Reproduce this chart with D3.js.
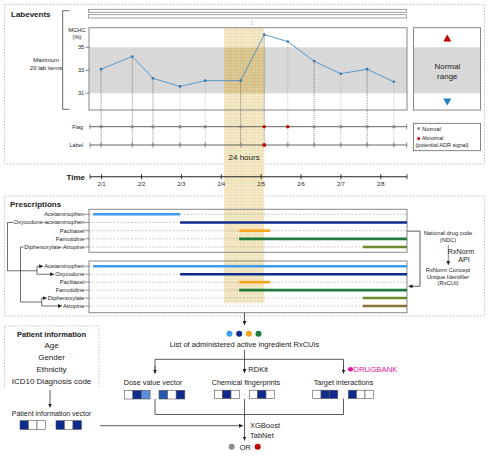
<!DOCTYPE html>
<html><head><meta charset="utf-8">
<script src="https://cdn.jsdelivr.net/npm/d3@7"></script>
<style>body{margin:0;background:#fff}svg{display:block}</style>
</head><body><svg id="c" width="493" height="456"></svg>
<script>
// ---------- DATA ----------
const labDays = [1.0, 1.78, 2.30, 2.98, 3.61, 4.50, 5.09, 5.68, 6.34, 7.01, 7.67, 8.34];
const mchcValues = [33.1, 34.2, 32.3, 31.6, 32.1, 32.1, 36.1, 35.5, 33.8, 32.7, 33.1, 32.0];
const flagAbnormal = [0,0,0,0,0,0,1,1,0,0,0,0];
const labelAbnormal = [0,0,0,0,0,0,1,0,0,0,0,0];
const dropEmphasis = [1,1,1,0,0,1,1,0,1,0,1,0];
const mchcTicks = [31, 33, 35];
const normalRange = [31, 35];
const timeDays = [1,2,3,4,5,6,7,8];
const timeLabels = ["2/1","2/2","2/3","2/4","2/5","2/6","2/7","2/8"];
const windowDays = [4.08, 5.09];
const timeDomain = [0.72, 8.67];

const originalDrugs = ["Acetaminophen","Oxycodone-acetaminophen","Paclitaxel","Famotidine","Diphenoxylate-Atropine"];
const originalStart = [0.8, 2.98, 4.46, 4.46, 7.56];
const originalEnd   = [2.98, 8.67, 5.24, 8.67, 8.67];
const ingredientDrugs = ["Acetaminophen","Oxycodone","Paclitaxel","Famotidine","Diphenoxylate","Atropine"];
const ingredientStart = [0.8, 2.98, 4.46, 4.46, 7.56, 7.56];
const ingredientEnd   = [8.67, 8.67, 5.24, 8.67, 8.67, 8.67];

const doseVector = [[0,3,1],[2,0,3]];
const fingerprintVector = [[0,3,0],[0,3,0]];
const targetVector = [[0,3,3],[3,0,0]];
const patientVector = [[3,0,0],[3,0,3]];
const patientFields = ["Age","Gender","Ethnicity","ICD10 Diagnosis code"];

// ---------- STYLE ----------
const F = "Liberation Sans, Arial, sans-serif";
const ingredientColors = ["#3d9cec","#0d2a8c","#f7a31c","#1e7a3e","#6b8b2e","#8a7236"];
const originalColors = ["#3d9cec","#0d2a8c","#f7a31c","#1e7a3e","#6b8b2e"];
const cellColors = ["#ffffff","#5b8fdd","#2458b0","#0d2a8c"];
const RED = "#c00000", GRAY = "#8c8c8c";

const svg = d3.select("#c");
const defs = svg.append("defs");
defs.append("marker").attr("id","arr").attr("viewBox","0 0 6 6").attr("refX",6).attr("refY",3)
  .attr("markerUnits","userSpaceOnUse").attr("markerWidth",4).attr("markerHeight",4).attr("orient","auto")
  .append("path").attr("d","M0,0L6,3L0,6Z").attr("fill","#222");
const pat = defs.append("pattern").attr("id","hatch").attr("width",3).attr("height",3).attr("patternUnits","userSpaceOnUse");
pat.append("rect").attr("width",3).attr("height",3).attr("fill","#f5eacb");
pat.append("path").attr("d","M0,0.5H3M0.5,0V3").attr("stroke","#ebdbab").attr("stroke-width",0.6);
const pat2 = defs.append("pattern").attr("id","hatch2").attr("width",3).attr("height",3).attr("patternUnits","userSpaceOnUse");
pat2.append("rect").attr("width",3).attr("height",3).attr("fill","#dfcb98");
pat2.append("path").attr("d","M0,0.5H3M0.5,0V3").attr("stroke","#d2bb82").attr("stroke-width",0.6);
const gpat = defs.append("pattern").attr("id","gray").attr("width",2).attr("height",2).attr("patternUnits","userSpaceOnUse");
gpat.append("rect").attr("width",2).attr("height",2).attr("fill","#d6d6d6");
gpat.append("rect").attr("width",1).attr("height",1).attr("fill","#dedede");

function text(x,y,s,size,anchor="start",weight="normal",fill="#222"){
  return svg.append("text").attr("x",x).attr("y",y).text(s).attr("font-family",F).attr("font-size",size)
    .attr("text-anchor",anchor).attr("font-weight",weight).attr("fill",fill);
}
function line(x1,y1,x2,y2,stroke="#333",w=0.8,dash=null,arrow=false){
  const l = svg.append("line").attr("x1",x1).attr("y1",y1).attr("x2",x2).attr("y2",y2)
    .attr("stroke",stroke).attr("stroke-width",w);
  if(dash) l.attr("stroke-dasharray",dash);
  if(arrow) l.attr("marker-end","url(#arr)");
  return l;
}
function path(d,stroke="#333",w=0.8,arrow=false){
  const p = svg.append("path").attr("d",d).attr("fill","none").attr("stroke",stroke).attr("stroke-width",w);
  if(arrow) p.attr("marker-end","url(#arr)");
  return p;
}

const x = d3.scaleLinear().domain(timeDomain).range([90, 407]);
const y = d3.scaleLinear().domain(normalRange).range([93.3, 47.3]);

// ---------- panels ----------
svg.append("rect").attr("x",4.5).attr("y",4.5).attr("width",480).attr("height",159.5)
  .attr("fill","none").attr("stroke","#aaa").attr("stroke-width",0.7).attr("stroke-dasharray","1.5,1.5");
svg.append("rect").attr("x",4.5).attr("y",196).attr("width",480).attr("height",120)
  .attr("fill","none").attr("stroke","#aaa").attr("stroke-width",0.7).attr("stroke-dasharray","1.5,1.5");
path("M4.5,388V326H99V388","#aaa",0.7).attr("stroke-dasharray","1.5,1.5");

text(11,17,"Labevents",8,"start","bold");
text(10,207,"Prescriptions",8,"start","bold");

// gray normal-range band (chart + legend)
svg.append("rect").attr("x",89).attr("y",y(35)).attr("width",318).attr("height",y(31)-y(35)).attr("fill","url(#gray)");
svg.append("rect").attr("x",413.5).attr("y",y(35)).attr("width",67).attr("height",y(31)-y(35)).attr("fill","url(#gray)");

// 24-hour window band
const bx0 = x(windowDays[0]), bx1 = x(windowDays[1]);
svg.append("rect").attr("x",bx0).attr("y",28).attr("width",bx1-bx0)
  .attr("height",275).attr("fill","url(#hatch)");
svg.append("rect").attr("x",bx0).attr("y",y(35)).attr("width",bx1-bx0)
  .attr("height",y(31)-y(35)).attr("fill","url(#hatch2)");
text((bx0+bx1)/2,160,"24 hours",8,"middle");

// top stacked lab rows
svg.append("rect").attr("x",88.5).attr("y",9.3).attr("width",318).attr("height",3).attr("fill","#fff").attr("stroke","#888").attr("stroke-width",0.8);
svg.append("rect").attr("x",88.5).attr("y",14.7).attr("width",318).attr("height",3.3).attr("fill","#fff").attr("stroke","#888").attr("stroke-width",0.8);
line(252,20,252,26,"#999",0.8,"1,1");

// bracket
path("M69.5,10.7H62.7V109.3H69.5","#444",0.8);
text(46,62,"Maximum",6,"middle");
text(46,69.5,"20 lab items",6,"middle");

// chart box
svg.append("rect").attr("x",89).attr("y",27.7).attr("width",318).attr("height",82.3).attr("fill","none").attr("stroke","#888").attr("stroke-width",1);
text(77,32,"MCHC",5.8,"middle");
text(77,39,"(%)",5.8,"middle");
mchcTicks.forEach(t=>{ line(85.5,y(t),89,y(t),"#555",0.7); text(84,y(t)+2,String(t),5.5,"end"); });

// drop lines
labDays.forEach((d,i)=>{
  line(x(d),y(mchcValues[i]),x(d),145, dropEmphasis[i]?"#555":"#b0b0b0",0.7,"1,1");
});
// series line
svg.append("path").datum(labDays.map((d,i)=>[d,mchcValues[i]]))
  .attr("d",d3.line().x(d=>x(d[0])).y(d=>y(d[1]))).attr("fill","none").attr("stroke","#4b8fc4").attr("stroke-width",0.9);
svg.selectAll(".pt").data(labDays).join("circle").attr("cx",d=>x(d)).attr("cy",(d,i)=>y(mchcValues[i])).attr("r",1.3).attr("fill","#2f74b0");

// flag and label rows
[[126.7,"Flag"],[145,"Label"]].forEach(([ry,lab])=>{
  line(90,ry,406.7,ry,"#555",0.9);
  line(90,ry-2.5,90,ry+2.5,"#555",0.7);
  line(406.7,ry-2.5,406.7,ry+2.5,"#555",0.7);
  text(83,ry+2,lab,5.5,"end");
});
svg.selectAll(".flag").data(labDays).join("circle").attr("cx",d=>x(d)).attr("cy",126.7).attr("r",1.7)
  .attr("fill",(d,i)=>flagAbnormal[i]?RED:GRAY);
labDays.forEach((d,i)=>{
  if(labelAbnormal[i]){
    svg.append("rect").attr("x",x(d)-1.7).attr("y",143.3).attr("width",3.4).attr("height",3.4).attr("fill",RED);
  } else {
    line(x(d),142.3,x(d),147.7,"#888",0.8);
    svg.append("circle").attr("cx",x(d)).attr("cy",145).attr("r",1.4).attr("fill",GRAY);
  }
});

// legend: normal range
svg.append("rect").attr("x",413.5).attr("y",27.7).attr("width",67).attr("height",82.3).attr("fill","none").attr("stroke","#888").attr("stroke-width",1);
svg.append("path").attr("d","M447.3,34.5L451.3,41.5L443.3,41.5Z").attr("fill",RED);
svg.append("path").attr("d","M447.3,105.5L451.3,98.5L443.3,98.5Z").attr("fill","#1f7fc4");
text(447.3,69,"Normal",8,"middle");
text(447.3,79,"range",8,"middle");

// legend: flag
svg.append("rect").attr("x",413.5).attr("y",123.3).attr("width",67).attr("height",27.4).attr("fill","none").attr("stroke","#666").attr("stroke-width",0.8);
svg.append("circle").attr("cx",418.7).attr("cy",128.5).attr("r",1.5).attr("fill",GRAY);
text(422,130.5,"Normal",5.8);
svg.append("circle").attr("cx",418.7).attr("cy",138.5).attr("r",1.5).attr("fill",RED);
text(422,140.2,"Abnormal",5);
text(415.5,147.2,"(potential ADR signal)",5.5);

// ---------- time axis ----------
const ax = svg.append("g").attr("transform","translate(0,176.7)")
  .call(d3.axisBottom(x).tickValues(timeDays).tickFormat((d,i)=>timeLabels[i]).tickSizeOuter(0).tickSizeInner(2.5));
ax.select(".domain").remove();
ax.selectAll(".tick line").attr("y1",-2.5).attr("y2",2.5).attr("stroke","#222").attr("stroke-width",0.9);
ax.selectAll(".tick text").attr("y",7.5).attr("dy","0.35em").attr("font-family",F).attr("font-size",5.5).attr("fill","#222");
line(90,176.7,407,176.7,"#222",1.1);
line(90,174.2,90,179.2,"#222",0.8);
line(407,174.2,407,179.2,"#222",0.8);
text(85,179.5,"Time",8,"end","bold");

// ---------- prescriptions ----------
function drugBox(names, starts, ends, colors, y0, y1, boxTop, boxBot){
  const ys = d3.scalePoint().domain(names).range([y0,y1]);
  svg.append("rect").attr("x",89).attr("y",boxTop).attr("width",318).attr("height",boxBot-boxTop)
    .attr("fill","none").attr("stroke","#888").attr("stroke-width",1);
  const starts_ = {};
  names.forEach((n,i)=>{
    const yy = ys(n);
    line(89,yy,407,yy,"#999",0.5,"2,1.5");
    line(85,yy,89,yy,"#444",0.6);
    const t = text(84.5,yy+2,n,5.8,"end");
    starts_[n] = t.node().getBBox().x;
    line(x(starts[i]),yy,x(ends[i]),yy,colors[i],2.6);
  });
  return {ys, starts: starts_};
}
const up = drugBox(originalDrugs, originalStart, originalEnd, originalColors, 214.3, 247, 209.3, 252.3);
const lo = drugBox(ingredientDrugs, ingredientStart, ingredientEnd, ingredientColors, 266.3, 306, 261, 312.7);

// left fork connectors
{
  const ya = up.ys("Oxycodone-acetaminophen");
  const xa = up.starts["Oxycodone-acetaminophen"]-0.5;
  const yb1 = lo.ys("Acetaminophen"), yb2 = lo.ys("Oxycodone");
  const ym = (yb1+yb2)/2 + 0.5;
  path(`M${xa},${ya}H7.5V${ym}H37`,"#333",0.7);
  path(`M37,${yb1}V${yb2}`,"#333",0.7);
  line(37,yb1,lo.starts["Acetaminophen"]-1,yb1,"#333",0.7,null,true);
  line(37,yb2,lo.starts["Oxycodone"]-1,yb2,"#333",0.7,null,true);
}
{
  const ya = up.ys("Diphenoxylate-Atropine");
  const xa = up.starts["Diphenoxylate-Atropine"]-0.5;
  const yb1 = lo.ys("Diphenoxylate"), yb2 = lo.ys("Atropine");
  const ym = (yb1+yb2)/2;
  path(`M${xa},${ya}H20.5V${ym}H41.7`,"#333",0.7);
  path(`M41.7,${yb1}V${yb2}`,"#333",0.7);
  line(41.7,yb1,lo.starts["Diphenoxylate"]-1,yb1,"#333",0.7,null,true);
  line(41.7,yb2,lo.starts["Atropine"]-1,yb2,"#333",0.7,null,true);
}

// right NDC -> RxCUI
path(`M407,${up.ys("Paclitaxel")+0.5}H420V286.3H408.5`,"#333",0.8,true);
text(448,235,"National drug code",5.8,"middle");
text(448,241.8,"(NDC)",5.8,"middle");
line(448.3,245,448.3,265,"#555",0.7,null,true);
text(461,253.5,"RxNorm",7.2,"middle");
text(464,262,"API",7.2,"middle");
text(448,272,"RxNorm Concept",5.8,"middle");
text(448,278.7,"Unique Identifier",5.8,"middle");
text(448,285.4,"(RxCUI)",5.8,"middle");

// ---------- flow ----------
line(244.5,312.7,244.5,325,"#333",0.8,null,true);
const dotX = d3.scalePoint().domain(d3.range(4)).range([229.5,258.5]);
svg.selectAll(".ld").data(d3.range(4)).join("circle").attr("cx",d=>dotX(d)).attr("cy",333.7).attr("r",3)
  .attr("fill",d=>ingredientColors[d]);
text(244.5,347,"List of administered active ingredient RxCUIs",7.5,"middle");
line(244.5,350,244.5,373,"#333",0.8,null,true);
path("M155,373V359.3H343.5V373","#333",0.8);
line(155,366,155,373.5,"#333",0.8,null,true);
line(343.5,366,343.5,373.5,"#333",0.8,null,true);
text(248.3,372,"RDKit",7.5);
svg.append("ellipse").attr("cx",350.5).attr("cy",369.3).attr("rx",2.6).attr("ry",2.2).attr("fill","#e5179b");
text(353.3,372,"DRUGBANK",7.8,"start","normal","#e5179b");

text(153,385,"Dose value vector",7.3,"middle");
text(246,385,"Chemical fingerprints",7.3,"middle");
text(343.5,385,"Target interactions",7.3,"middle");

function drawVec(groups, gx, y0, cw=8.6, ch=8.7){
  groups.forEach((g,gi)=>{
    g.forEach((v,ci)=>{
      svg.append("rect").attr("x",gx[gi]+ci*cw).attr("y",y0).attr("width",cw).attr("height",ch)
        .attr("fill",cellColors[v]).attr("stroke","#555").attr("stroke-width",0.6);
    });
  });
  text((gx[0]+3*cw+gx[1])/2,y0+ch/2+1.5,"···",5,"middle","normal","#888");
}
drawVec(doseVector,[124.3,159],390.3);
drawVec(fingerprintVector,[214.3,249.3],390.2,8.35,8.3);
drawVec(targetVector,[312.7,348.3],390.2,8.35,8.3);
drawVec(patientVector,[20,56],420.7,8.5,8.6);

// patient info
text(51.5,336.5,"Patient information",7.6,"middle","bold");
patientFields.forEach((f,i)=>text(51.5,348+i*12,f,8,"middle"));
line(50,390,50,407.5,"#333",0.8,null,true);
text(51.5,416,"Patient information vector",7,"middle");

// bottom merge
path("M155,399V414.5H343.5V398.5","#333",0.8);
line(100,425.7,243,425.7,"#333",0.8,null,true);
line(244.5,399,244.5,440.5,"#333",0.8,null,true);
text(250,428,"XGBoost",7.5);
text(250,437.5,"TabNet",7.5);
svg.append("circle").attr("cx",231.7).attr("cy",446.7).attr("r",3).attr("fill",GRAY);
svg.append("circle").attr("cx",257.7).attr("cy",446.7).attr("r",3).attr("fill",RED);
text(245,449.5,"OR",7.5,"middle");
</script></body></html>
